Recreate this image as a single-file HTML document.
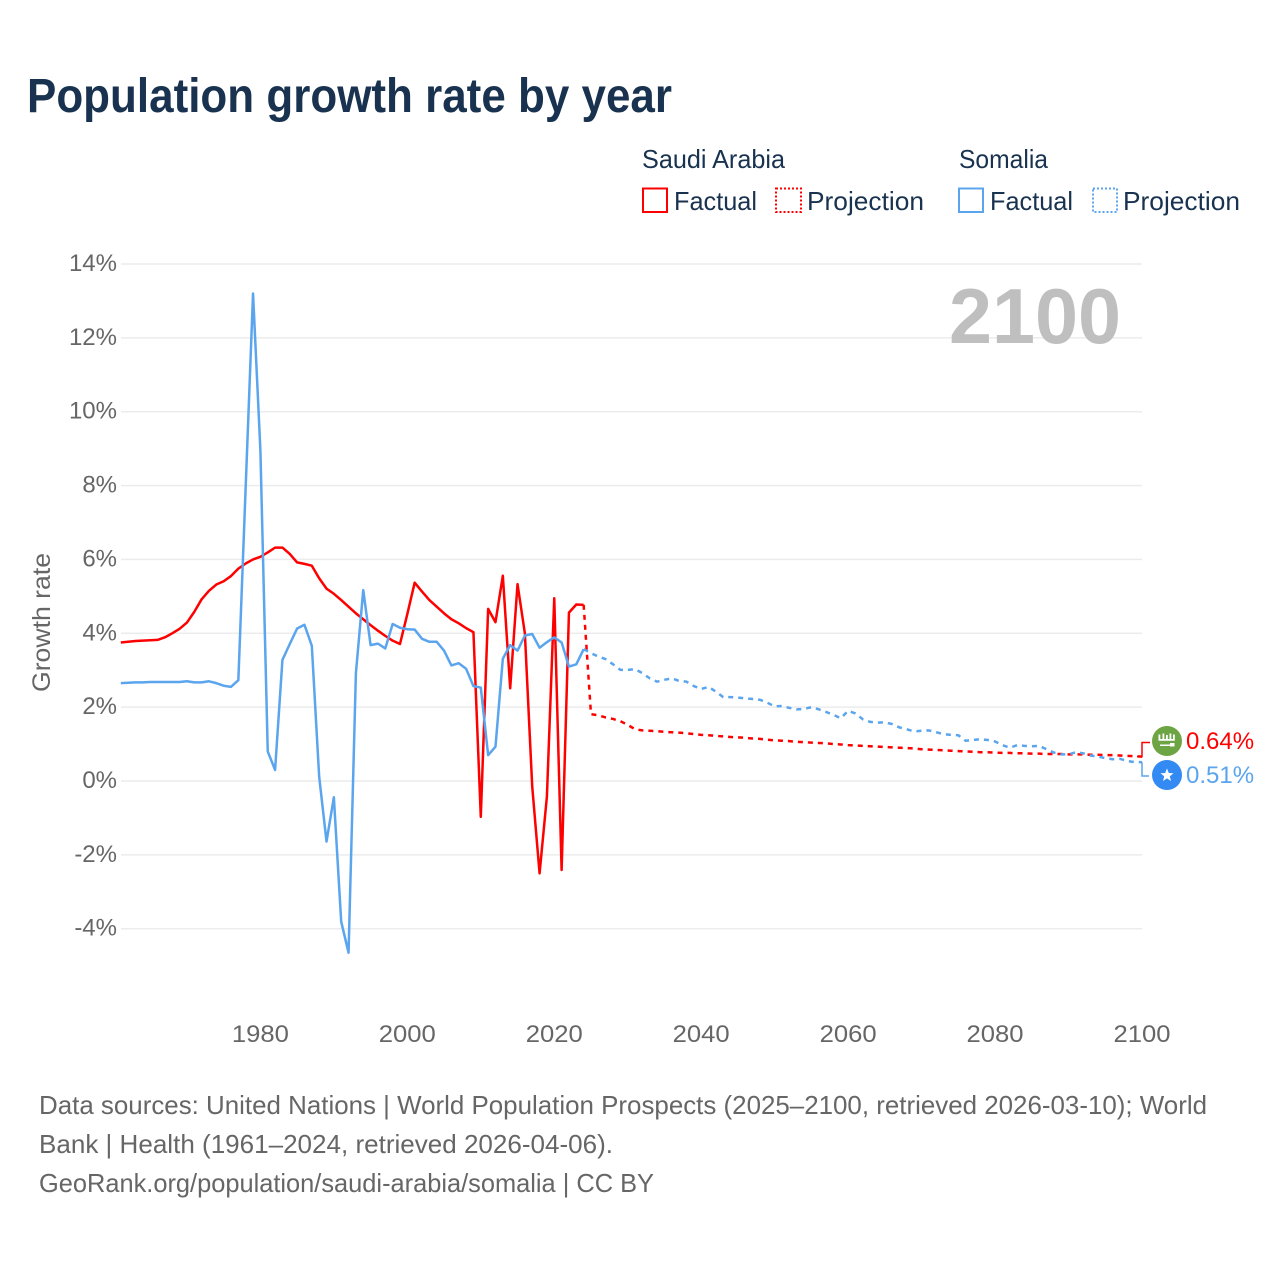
<!DOCTYPE html>
<html lang="en">
<head>
<meta charset="utf-8">
<title>Population growth rate by year</title>
<style>
html,body{margin:0;padding:0;background:#fff;}
svg{display:block;font-family:"Liberation Sans",sans-serif;}
</style>
</head>
<body>
<svg id="chart" xmlns="http://www.w3.org/2000/svg" width="1280" height="1280" viewBox="0 0 1280 1280">
  <rect width="1280" height="1280" fill="#ffffff"/>
  <text x="27" y="112" font-size="48" font-weight="700" fill="#18324f" textLength="645" lengthAdjust="spacingAndGlyphs">Population growth rate by year</text>

  <g font-size="26" fill="#18324f">
    <text x="642" y="168" textLength="143" lengthAdjust="spacingAndGlyphs">Saudi Arabia</text>
    <text x="959" y="168" textLength="89" lengthAdjust="spacingAndGlyphs">Somalia</text>
    <rect x="643" y="188.500" width="24" height="23.500" fill="none" stroke="#ff0000" stroke-width="2"/>
    <text x="674" y="210" textLength="83" lengthAdjust="spacingAndGlyphs">Factual</text>
    <rect x="776" y="188.500" width="25" height="23.500" fill="none" stroke="#ff0000" stroke-width="2" stroke-dasharray="2 2"/>
    <text x="807" y="210" textLength="117" lengthAdjust="spacingAndGlyphs">Projection</text>
    <rect x="959" y="188.500" width="24" height="23.500" fill="none" stroke="#5ba5ee" stroke-width="2"/>
    <text x="990" y="210" textLength="83" lengthAdjust="spacingAndGlyphs">Factual</text>
    <rect x="1093" y="188.500" width="24" height="23.500" fill="none" stroke="#5ba5ee" stroke-width="2" stroke-dasharray="2 2"/>
    <text x="1123" y="210" textLength="117" lengthAdjust="spacingAndGlyphs">Projection</text>
  </g>

  <g id="grid"></g>
  <g id="yticks" font-size="24" fill="#666666" text-anchor="end"></g>
  <g id="xticks" font-size="24" fill="#666666" text-anchor="middle"></g>
  <text transform="translate(50,692) rotate(-90)" font-size="25" fill="#666666" textLength="139" lengthAdjust="spacingAndGlyphs">Growth rate</text>
  <text id="year-watermark" x="949" y="343" font-size="78" font-weight="700" fill="#bfbfbf" textLength="172" lengthAdjust="spacingAndGlyphs">2100</text>

  <g id="series"></g>
  <g id="end-labels"></g>

  <g>
    <circle cx="1167" cy="741" r="15" fill="#6da544"/>
    <path d="M1158.500 734.500h1.800v4.500h-1.800zM1162.500 733.500h1.800v5.500h-1.800zM1166 735h1.800v4h-1.800zM1169.500 733.500h1.800v5.500h-1.800zM1173 734.500h1.800v4.500h-1.800zM1158.500 739h16.300v1.800h-16.300zM1160 744.500h10v1.500h-10zM1170 743h4.500v3.500h-4.500z" fill="#ffffff"/>
  </g>
  <g>
    <circle cx="1167" cy="775" r="15" fill="#338af3"/>
    <polygon points="1167,768.500 1168.800,773 1173.500,773.300 1169.800,776.300 1171,781 1167,778.400 1163,781 1164.200,776.300 1160.500,773.300 1165.200,773" fill="#ffffff"/>
  </g>

  <g font-size="26" fill="#666666">
    <text x="39" y="1114" textLength="1168" lengthAdjust="spacingAndGlyphs">Data sources: United Nations | World Population Prospects (2025–2100, retrieved 2026-03-10); World</text>
    <text x="39" y="1153" textLength="574" lengthAdjust="spacingAndGlyphs">Bank | Health (1961–2024, retrieved 2026-04-06).</text>
    <text x="39" y="1192" textLength="615" lengthAdjust="spacingAndGlyphs">GeoRank.org/population/saudi-arabia/somalia | CC BY</text>
  </g>
</svg>

<script>
const factualStartYear = 1961;
const projectionStartYear = 2024;
const yTickValues = [-4, -2, 0, 2, 4, 6, 8, 10, 12, 14];
const xTickYears = [1980, 2000, 2020, 2040, 2060, 2080, 2100];
const saudiFactual = [3.75,3.77,3.79,3.80,3.81,3.82,3.89,4.00,4.12,4.29,4.58,4.92,5.15,5.32,5.41,5.55,5.75,5.89,6.00,6.07,6.19,6.32,6.32,6.15,5.92,5.88,5.83,5.49,5.21,5.07,4.90,4.72,4.54,4.38,4.22,4.07,3.93,3.80,3.71,4.52,5.37,5.13,4.90,4.72,4.54,4.38,4.27,4.14,4.03,-0.97,4.66,4.30,5.56,2.51,5.33,4.00,-0.15,-2.50,-0.42,4.95,-2.41,4.56,4.78,4.77];
const saudiProjection = [4.77,1.81,1.78,1.72,1.68,1.62,1.52,1.40,1.37,1.36,1.35,1.33,1.32,1.31,1.29,1.27,1.25,1.24,1.22,1.21,1.19,1.18,1.17,1.15,1.14,1.12,1.10,1.09,1.08,1.06,1.05,1.04,1.03,1.02,1.00,0.99,0.97,0.96,0.95,0.94,0.93,0.92,0.91,0.90,0.89,0.88,0.86,0.85,0.84,0.83,0.82,0.81,0.80,0.79,0.78,0.78,0.77,0.76,0.76,0.75,0.75,0.74,0.74,0.73,0.73,0.73,0.72,0.72,0.72,0.71,0.71,0.70,0.70,0.69,0.68,0.67,0.66];
const somaliaFactual = [2.65,2.66,2.67,2.67,2.68,2.68,2.68,2.68,2.68,2.70,2.67,2.67,2.70,2.65,2.58,2.55,2.73,7.97,13.20,8.96,0.80,0.30,3.28,3.71,4.13,4.23,3.66,0.12,-1.64,-0.44,-3.81,-4.65,2.92,5.17,3.68,3.72,3.59,4.25,4.15,4.11,4.10,3.85,3.77,3.77,3.53,3.13,3.19,3.04,2.57,2.53,0.70,0.93,3.31,3.68,3.53,3.94,3.98,3.61,3.76,3.89,3.75,3.10,3.16,3.57];
const somaliaProjection = [3.57,3.46,3.37,3.30,3.16,3.01,3.01,3.03,2.92,2.78,2.69,2.74,2.78,2.71,2.69,2.57,2.49,2.55,2.42,2.27,2.27,2.26,2.24,2.22,2.20,2.12,2.02,2.03,1.98,1.94,1.95,2.00,1.94,1.87,1.79,1.70,1.90,1.83,1.67,1.60,1.58,1.59,1.54,1.45,1.40,1.34,1.36,1.37,1.32,1.27,1.25,1.24,1.09,1.11,1.13,1.11,1.07,0.97,0.90,0.97,0.95,0.94,0.95,0.86,0.77,0.72,0.72,0.78,0.75,0.69,0.66,0.62,0.59,0.60,0.54,0.51,0.51];
const endLabelSaudi = ["0.64%"];
const endLabelSomalia = ["0.51%"];

const NS = "http://www.w3.org/2000/svg";
function xScale(year) { return 120.8 + (year - 1961) * (1142 - 120.8) / (2100 - 1961); }
function yScale(value) { return 781 - value * (781 - 264) / 14; }
function make(tag, attrs, parent) {
  const el = document.createElementNS(NS, tag);
  for (const k in attrs) el.setAttribute(k, attrs[k]);
  parent.appendChild(el);
  return el;
}
function pathFrom(values, startYear) {
  return values.map((v, i) => (i ? "L" : "M") + xScale(startYear + i).toFixed(2) + " " + yScale(v).toFixed(2)).join("");
}

const grid = document.getElementById("grid");
const yticks = document.getElementById("yticks");
yTickValues.forEach(function (v) {
  const line = make("line", {x1: 121, x2: 1142, y1: yScale(v), y2: yScale(v), stroke: "#ececec", "stroke-width": 1.5}, grid);
  
  
  const t = make("text", {x: 117, y: yScale(v) + 7 }, yticks);
  
  
  t.textContent = v + "%";
});

const xticks = document.getElementById("xticks");
xTickYears.forEach(function (yr) {
  const t = make("text", {x: xScale(yr), y: 1042, textLength: 57, lengthAdjust: "spacingAndGlyphs"}, xticks);
  
  
  t.textContent = yr;
});

const series = document.getElementById("series");
function drawLine(values, startYear, color, dashed, name) {
  const p = make("path", {d: pathFrom(values, startYear), fill: "none", stroke: color, "stroke-width": 2.5, "stroke-linejoin": "round"}, series);
  if (dashed) p.setAttribute("stroke-dasharray", "5 5");
  
  
}
drawLine(saudiFactual, factualStartYear, "#ff0000", false, "saudi-arabia-factual-line");
drawLine(saudiProjection, projectionStartYear, "#ff0000", true, "saudi-arabia-projection-line");
drawLine(somaliaFactual, factualStartYear, "#5ba5ee", false, "somalia-factual-line");
drawLine(somaliaProjection, projectionStartYear, "#5ba5ee", true, "somalia-projection-line");

const endLabels = document.getElementById("end-labels");
const lastSaudi = saudiProjection[saudiProjection.length - 1];
const lastSomalia = somaliaProjection[somaliaProjection.length - 1];
const c1 = make("path", {d: "M1137 " + yScale(lastSaudi) + "H1142V742.500H1150", fill: "none", stroke: "#ff0000", "stroke-width": 1.500}, endLabels);


const c2 = make("path", {d: "M1142 " + yScale(lastSomalia) + "V776H1149", fill: "none", stroke: "#5ba5ee", "stroke-width": 1.500}, endLabels);


const l1 = make("text", {x: 1186, y: 749, "font-size": 24, fill: "#ff0000"}, endLabels);


l1.textContent = endLabelSaudi[0];
const l2 = make("text", {x: 1186, y: 783, "font-size": 24, fill: "#5ba5ee"}, endLabels);


l2.textContent = endLabelSomalia[0];
</script>
</body>
</html>
